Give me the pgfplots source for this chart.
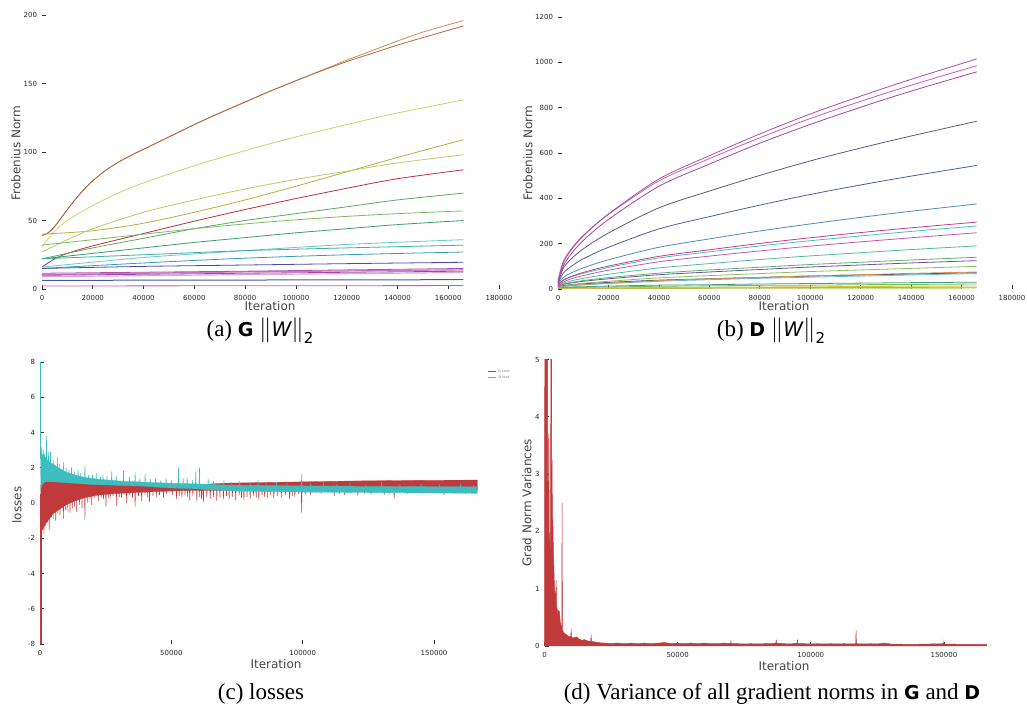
\documentclass[border=0pt]{standalone}
\usepackage{pgfplots}
\pgfplotsset{compat=1.18}
\usepackage{fontspec}
\setmainfont{Liberation Serif}
\newfontfamily\dejavu{DejaVu Sans}
\definecolor{gred}{HTML}{C0393B}
\definecolor{dteal}{HTML}{3DBDBD}
\definecolor{lab}{HTML}{444444}
% panel a colours
\definecolor{a1}{HTML}{D48A4C}\definecolor{a2}{HTML}{B06848}\definecolor{a3}{HTML}{C8D468}
\definecolor{a4}{HTML}{B4B040}\definecolor{a5}{HTML}{B8CC60}\definecolor{a6}{HTML}{B82F3E}
\definecolor{a7}{HTML}{5AAA5A}\definecolor{a8}{HTML}{7AB868}\definecolor{a9}{HTML}{3A9A6A}
\definecolor{a10}{HTML}{68C8C8}\definecolor{a11}{HTML}{38B0A0}\definecolor{a12}{HTML}{3A9AB0}
\definecolor{a13}{HTML}{4A4AA8}\definecolor{p1}{HTML}{B050B0}\definecolor{p2}{HTML}{C878C8}
\definecolor{p3}{HTML}{A04AA0}\definecolor{p4}{HTML}{D8A8D8}\definecolor{a14}{HTML}{4858A8}
\definecolor{a15}{HTML}{C858B8}
% panel b colours
\definecolor{b1}{HTML}{B04AA8}\definecolor{b2}{HTML}{C060B8}\definecolor{b3}{HTML}{A04898}
\definecolor{b4}{HTML}{5A5888}\definecolor{b5}{HTML}{4E5C9C}\definecolor{b6}{HTML}{4A8EB0}
\definecolor{b7}{HTML}{C03C8C}\definecolor{b8}{HTML}{48C0B8}\definecolor{b9}{HTML}{C058B0}
\definecolor{b10}{HTML}{50B8A0}\definecolor{b11}{HTML}{58B070}\definecolor{b12}{HTML}{7050A0}
\definecolor{b13}{HTML}{88C060}\definecolor{b14}{HTML}{D09050}\definecolor{b15}{HTML}{68B8D0}
\definecolor{b16}{HTML}{384A7C}\definecolor{b17}{HTML}{40A080}\definecolor{b18}{HTML}{70C050}
\definecolor{b19}{HTML}{D8C040}\definecolor{b20}{HTML}{E0A040}\definecolor{b21}{HTML}{A8D050}

\pgfplotsset{
  panel/.style={scale only axis, anchor=south west, axis lines*=left,
    axis line style={draw=none,-}, tick align=inside, major tick length=4pt,
    tick style={color=black!80, line width=0.7pt},
    ticklabel style={font=\dejavu\fontsize{7}{8}\selectfont, color=black!85},
    /pgf/number format/assume math mode=true, scaled ticks=false,
    /pgf/number format/fixed, /pgf/number format/1000 sep={},
    xticklabel style={yshift=-2.5pt},
    yticklabel style={xshift=-1.5pt},
    clip=false, every axis plot/.append style={line width=0.8pt}}
}
\newcommand{\lbl}{\dejavu\fontsize{12}{14}\selectfont\color{lab}}
\newcommand{\capfont}{\fontsize{23}{26}\selectfont}
\newcommand{\sfb}[1]{{\dejavu\bfseries\fontsize{19}{20}\selectfont #1}}
\newcommand{\nrm}{$\big\|${\dejavu\itshape\fontsize{20}{20}\selectfont W}$\big\|$\raisebox{-0.3em}{\dejavu\fontsize{15}{15}\selectfont 2}}

\begin{document}
\begin{tikzpicture}[x=1pt,y=1pt]
\path[use as bounding box] (0pt,0pt) rectangle (1027pt,707pt);

% ---------------- (a) ----------------
\begin{axis}[panel, at={(42pt,418pt)}, width=457pt, height=274pt,
  xmin=0, xmax=180000, ymin=0, ymax=200,
  xtick={0,20000,...,180000}, ytick={0,50,100,150,200}]
\addplot[a1, smooth] coordinates {(0,39) (2000,40.5) (4000,43.5) (6000,48) (8000,53) (10000,58) (12500,64) (15000,69.5) (17500,74.5) (20000,79) (25000,86.5) (30000,92.5) (35000,97.5) (40000,102) (50000,111) (60000,120) (70000,128.5) (80000,136.5) (90000,144.5) (100000,152) (110000,159.5) (120000,167) (130000,174) (140000,181) (150000,187.5) (166000,196)};
\addplot[a2, smooth] coordinates {(0,39) (2000,40.5) (4000,43.5) (6000,48) (8000,53) (10000,58) (12500,64) (15000,69.5) (17500,74.5) (20000,79) (25000,86.5) (30000,92.5) (35000,97.5) (40000,102) (50000,111) (60000,120) (70000,128.5) (80000,136.5) (90000,144.5) (100000,152) (110000,159.2) (120000,166) (130000,172) (140000,178) (150000,183.5) (166000,192)};
\addplot[a3, smooth] coordinates {(0,31) (5000,42) (10000,50) (20000,61) (30000,70) (40000,77.5) (60000,90) (80000,101) (100000,111) (120000,120) (140000,128.5) (166000,138)};
\addplot[a4, smooth] coordinates {(0,40) (20000,42.5) (40000,48) (60000,56) (80000,65) (100000,75) (120000,85.5) (140000,96) (166000,109)};
\addplot[a5, smooth] coordinates {(0,27) (10000,36) (20000,44) (40000,56) (60000,65) (80000,73) (100000,80) (120000,86) (140000,92) (166000,98)};
\addplot[a6, smooth] coordinates {(0,16) (5000,22) (10000,26) (20000,31.5) (40000,40.5) (60000,49.5) (80000,58) (100000,66) (120000,73.5) (140000,80.5) (166000,87)};
\addplot[a7, smooth] coordinates {(0,22) (20000,30) (40000,37) (60000,44) (80000,50) (100000,55) (120000,60) (140000,65) (166000,70)};
\addplot[a8, smooth] coordinates {(0,32) (20000,36) (40000,40) (60000,44) (80000,47.5) (100000,50.5) (120000,53) (140000,55) (166000,57)};
\addplot[a9, smooth] coordinates {(0,22) (20000,26) (40000,30) (60000,34) (80000,37.5) (100000,41) (120000,44) (140000,47) (166000,50)};
\addplot[a10, smooth] coordinates {(0,16) (40000,23) (80000,28) (120000,32.5) (166000,36)};
\addplot[a11, smooth] coordinates {(0,22) (40000,25) (80000,28) (120000,30) (166000,32)};
\addplot[a12, smooth] coordinates {(0,15) (40000,19) (80000,22.5) (120000,25) (166000,27)};
\addplot[a13, smooth] coordinates {(0,15) (40000,16.5) (80000,17.5) (120000,18.5) (166000,19.5)};
\addplot[p4, line width=1.2pt] coordinates {(0,9) (80000,10.5) (166000,12)};
\addplot[p2, line width=1.2pt] coordinates {(0,10.5) (80000,12.5) (166000,14)};
\addplot[p3] coordinates {(0,10) (80000,11.5) (166000,13)};
\addplot[p1] coordinates {(0,11.5) (80000,13) (166000,15)};
\addplot[a14, line width=1pt] coordinates {(0,6.3) (166000,6.8)};
\addplot[a15] coordinates {(0,2.2) (166000,2.5)};
\end{axis}

% ---------------- (b) ----------------
\begin{axis}[panel, at={(558pt,418pt)}, width=454pt, height=272pt,
  xmin=0, xmax=180000, ymin=0, ymax=1200,
  xtick={0,20000,...,180000}, ytick={0,200,...,1200}]
\addplot[b21] coordinates {(0,1) (40000,2.5) (100000,3.5) (166000,4)};
\addplot[b20] coordinates {(0,2) (2000,3) (5000,3) (10000,3) (20000,4) (40000,5) (60000,5) (80000,6) (100000,6) (120000,7) (140000,7) (166000,8)};
\addplot[b19, smooth] coordinates {(0,2) (2000,3) (5000,4) (10000,4) (20000,5) (40000,7) (60000,8) (80000,9) (100000,10) (120000,11) (140000,12) (166000,13)};
\addplot[b18, smooth] coordinates {(0,3) (2000,5) (5000,6) (10000,7) (20000,9) (40000,12) (60000,14) (80000,16) (100000,17) (120000,19) (140000,20) (166000,22)};
\addplot[b17, smooth] coordinates {(0,5) (2000,7) (5000,9) (10000,10) (20000,13) (40000,17) (60000,19) (80000,22) (100000,24) (120000,26) (140000,28) (166000,30)};
\addplot[b16, smooth] coordinates {(0,10) (2000,15) (5000,19) (10000,23) (20000,29) (40000,39) (60000,45) (80000,51) (100000,57) (120000,62) (140000,66) (166000,72)};
\addplot[b15, smooth] coordinates {(0,5) (2000,10) (5000,14) (10000,18) (20000,24) (40000,34) (60000,41) (80000,47) (100000,52) (120000,57) (140000,62) (166000,68)};
\addplot[b14, smooth] coordinates {(0,5) (2000,11) (5000,15) (10000,19) (20000,26) (40000,37) (60000,45) (80000,51) (100000,58) (120000,63) (140000,69) (166000,75)};
\addplot[b13, smooth] coordinates {(0,5) (2000,13) (5000,18) (10000,25) (20000,34) (40000,49) (60000,59) (80000,68) (100000,77) (120000,84) (140000,91) (166000,100)};
\addplot[b12, smooth] coordinates {(0,10) (2000,20) (5000,26) (10000,34) (20000,45) (40000,63) (60000,75) (80000,86) (100000,97) (120000,106) (140000,115) (166000,125)};
\addplot[b11, smooth] coordinates {(0,10) (2000,21) (5000,28) (10000,37) (20000,50) (40000,70) (60000,84) (80000,96) (100000,108) (120000,118) (140000,128) (166000,140)};
\addplot[b10, smooth] coordinates {(0,10) (2000,25) (5000,35) (10000,47) (20000,65) (40000,93) (60000,112) (80000,130) (100000,146) (120000,160) (140000,174) (166000,190)};
\addplot[b9, smooth] coordinates {(0,10) (2000,30) (5000,44) (10000,59) (20000,83) (40000,120) (60000,145) (80000,168) (100000,189) (120000,208) (140000,226) (166000,248)};
\addplot[b8, smooth] coordinates {(0,15) (2000,37) (5000,52) (10000,69) (20000,95) (40000,137) (60000,164) (80000,190) (100000,213) (120000,234) (140000,254) (166000,278)};
\addplot[b7, smooth] coordinates {(0,15) (2000,39) (5000,54) (10000,73) (20000,101) (40000,144) (60000,173) (80000,201) (100000,226) (120000,249) (140000,270) (166000,295)};
\addplot[b6, smooth] coordinates {(0,20) (2000,50) (5000,70) (10000,93) (20000,129) (40000,184) (60000,221) (80000,256) (100000,287) (120000,316) (140000,343) (166000,375)};
\addplot[b5, smooth] coordinates {(0,25) (2000,69) (5000,98) (10000,133) (20000,184) (40000,265) (60000,319) (80000,370) (100000,417) (120000,459) (140000,498) (166000,545)};
\addplot[b4, smooth] coordinates {(0,30) (2000,90) (5000,130) (10000,177) (20000,247) (40000,358) (60000,432) (80000,501) (100000,565) (120000,622) (140000,675) (166000,740)};
\addplot[b3, smooth] coordinates {(0,20) (2000,99) (5000,152) (10000,214) (20000,307) (40000,453) (60000,551) (80000,643) (100000,726) (120000,802) (140000,873) (166000,958)};
\addplot[b2, smooth] coordinates {(0,40) (2000,119) (5000,173) (10000,236) (20000,329) (40000,477) (60000,575) (80000,667) (100000,752) (120000,828) (140000,899) (166000,985)};
\addplot[b1, smooth] coordinates {(0,30) (2000,113) (5000,169) (10000,234) (20000,331) (40000,485) (60000,588) (80000,684) (100000,772) (120000,851) (140000,925) (166000,1015)};
\end{axis}

% ---------------- (c) ----------------
\begin{axis}[panel, at={(40pt,63pt)}, width=472.9pt, height=282pt,
  xmin=0, xmax=180000, ymin=-8, ymax=8,
  xtick={0,50000,100000,150000}, ytick={-8,-6,...,8},
  legend style={at={(1,0.985)}, anchor=north east, draw=none, fill=none,
    font=\dejavu\fontsize{3.5}{4}\selectfont\color{black!50}, row sep=-2pt, inner sep=1pt},
  legend image code/.code={\draw[#1] (0pt,0pt) -- (8pt,0pt);}]
\addlegendimage{gred, line width=0.8pt}\addlegendentry{G Loss}
\addlegendimage{dteal, line width=0.8pt}\addlegendentry{D loss}
% G loss band
\addplot[fill=gred, draw=gred, line width=0.3pt, forget plot] coordinates {
 (300,1.0) (1000,1.15) (2500,1.3) (5000,1.25) (10000,1.18) (20000,1.1) (30000,1.05) (40000,1.0) (50000,0.97) (60000,0.98) (65000,1.08) (70000,1.12) (80000,1.15) (100000,1.2) (120000,1.25) (140000,1.28) (166500,1.3)
 (166500,0.75) (140000,0.72) (120000,0.72) (100000,0.72) (80000,0.72) (60000,0.72) (50000,0.68) (40000,0.62) (30000,0.55) (22000,0.45) (17000,0.3) (13000,0.1) (10000,-0.1) (7000,-0.4) (5000,-0.6) (3000,-1.0) (2000,-1.2) (1000,-1.5) (500,-1.6) (300,1.0)};
\addplot[gred, line width=1.2pt, forget plot] coordinates {(400,-8) (400,0.5)};
% G loss spikes
\addplot[gred, line width=0.55pt, forget plot] coordinates {
 (550,0.9) (700,-1.4) (850,0.9) (1350,0.9) (1500,-1.75) (1650,0.9) (2050,0.9) (2200,-1.3) (2350,0.9) (2650,0.9) (2800,-1.1) (2950,0.9)
 (3350,0.9) (3500,-1.55) (3650,0.9) (4150,0.9) (4300,-0.8) (4450,0.9) (4850,0.9) (5000,-0.9) (5150,0.9) (5850,0.9) (6000,-1.0) (6150,0.9)
 (6650,0.9) (6800,-0.6) (6950,0.9) (7450,0.9) (7600,-0.7) (7750,0.9) (8750,0.9) (8900,-0.9) (9050,0.9) (9650,0.9) (9800,-0.4) (9950,0.9)
 (10450,0.9) (10600,-0.5) (10750,0.9) (11250,0.9) (11400,-0.55) (11550,0.9) (12150,0.9) (12300,-0.3) (12450,0.9) (13050,0.9) (13200,-0.2) (13350,0.9)
 (13850,0.9) (14000,-0.5) (14150,0.9) (14850,0.9) (15000,-0.1) (15150,0.9) (15850,0.9) (16000,-0.3) (16150,0.9) (16950,0.9) (17100,-0.95) (17250,0.9)
 (18050,0.9) (18200,0.0) (18350,0.9) (18850,0.9) (19000,0.2) (19150,0.9) (19550,0.9) (19700,-0.1) (19850,0.9) (20650,0.9) (20800,0.3) (20950,0.9)
 (22050,0.9) (22200,0.1) (22350,0.9) (23150,0.9) (23300,0.35) (23450,0.9) (24050,0.9) (24200,0.2) (24350,0.9) (24950,0.9) (25100,-0.2) (25250,0.9)
 (25850,0.9) (26000,0.3) (26150,0.9) (26550,0.9) (26700,0.25) (26850,0.9) (27650,0.9) (27800,0.4) (27950,0.9) (29050,0.9) (29200,-0.15) (29350,0.9)
 (30050,0.9) (30200,0.35) (30350,0.9) (30850,0.9) (31000,0.3) (31150,0.9) (31850,0.9) (32000,0.45) (32150,0.9) (32850,0.9) (33000,0.0) (33150,0.9)
 (34050,0.9) (34200,0.4) (34350,0.9) (35050,0.9) (35200,0.3) (35350,0.9) (36050,0.9) (36200,-0.2) (36350,0.9) (37350,0.9) (37500,0.4) (37650,0.9)
 (38550,0.9) (38700,0.1) (38850,0.9) (39850,0.9) (40000,0.45) (40150,0.9) (40850,0.9) (41000,0.3) (41150,0.9) (41550,0.9) (41700,0.05) (41850,0.9)
 (42850,0.9) (43000,0.4) (43150,0.9) (44250,0.9) (44400,0.35) (44550,0.9) (45350,0.9) (45500,0.45) (45650,0.9) (46850,0.9) (47000,0.3) (47150,0.9)
 (48050,0.9) (48200,0.5) (48350,0.9) (50350,0.9) (50500,0.45) (50650,0.9) (51850,0.9) (52000,0.2) (52150,0.9) (52850,0.9) (53000,0.4) (53150,0.9)
 (53850,0.9) (54000,0.3) (54150,0.9) (55050,0.9) (55200,0.45) (55350,0.9) (56050,0.9) (56200,0.35) (56350,0.9) (56850,0.9) (57000,0.15) (57150,0.9)
 (58050,0.9) (58200,0.4) (58350,0.9) (59550,0.9) (59700,0.1) (59850,0.9) (60650,0.9) (60800,0.35) (60950,0.9) (61350,0.9) (61500,0.2) (61650,0.9)
 (62050,0.9) (62200,0.05) (62350,0.9) (63350,0.9) (63500,0.3) (63650,0.9) (64650,0.9) (64800,0.25) (64950,0.9) (65850,0.9) (66000,0.35) (66150,0.9)
 (67150,0.9) (67300,0.1) (67450,0.9) (68350,0.9) (68500,0.3) (68650,0.9) (69650,0.9) (69800,0.2) (69950,0.9) (70850,0.9) (71000,0.4) (71150,0.9)
 (71850,0.9) (72000,0.2) (72150,0.9) (73050,0.9) (73200,0.35) (73350,0.9) (74350,0.9) (74500,0.15) (74650,0.9) (75650,0.9) (75800,0.45) (75950,0.9)
 (76550,0.9) (76700,0.3) (76850,0.9) (77450,0.9) (77600,0.15) (77750,0.9) (78650,0.9) (78800,0.35) (78950,0.9) (79850,0.9) (80000,0.2) (80150,0.9)
 (81050,0.9) (81200,0.4) (81350,0.9) (82150,0.9) (82300,0.3) (82450,0.9) (83150,0.9) (83300,0.15) (83450,0.9) (84350,0.9) (84500,0.45) (84650,0.9)
 (85350,0.9) (85500,0.35) (85650,0.9) (86350,0.9) (86500,0.3) (86650,0.9) (87650,0.9) (87800,0.45) (87950,0.9) (88850,0.9) (89000,0.25) (89150,0.9)
 (90350,0.9) (90500,0.4) (90650,0.9) (91850,0.9) (92000,0.3) (92150,0.9) (93350,0.9) (93500,0.45) (93650,0.9) (94850,0.9) (95000,0.2) (95150,0.9)
 (95850,0.9) (96000,0.4) (96150,0.9) (96850,0.9) (97000,0.35) (97150,0.9) (98350,0.9) (98500,0.5) (98650,0.9) (99450,0.9) (99600,-0.55) (99750,0.9)
 (100850,0.9) (101000,0.5) (101150,0.9) (102850,0.9) (103000,0.45) (103150,0.9) (104850,0.9) (105000,0.55) (105150,0.9) (106850,0.9) (107000,0.5) (107150,0.9)
 (109350,0.9) (109500,0.6) (109650,0.9) (111850,0.9) (112000,0.4) (112150,0.9) (113850,0.9) (114000,0.55) (114150,0.9) (115850,0.9) (116000,0.45) (116150,0.9)
 (118350,0.9) (118500,0.6) (118650,0.9) (120850,0.9) (121000,0.4) (121150,0.9) (123350,0.9) (123500,0.55) (123650,0.9) (125850,0.9) (126000,0.5) (126150,0.9)
 (128350,0.9) (128500,0.6) (128650,0.9) (130850,0.9) (131000,0.45) (131150,0.9) (132850,0.9) (133000,0.55) (133150,0.9) (134650,0.9) (134800,0.25) (134950,0.9)
 (136850,0.9) (137000,0.6) (137150,0.9) (139850,0.9) (140000,0.5) (140150,0.9) (142350,0.9) (142500,0.6) (142650,0.9) (144850,0.9) (145000,0.55) (145150,0.9)
 (147350,0.9) (147500,0.6) (147650,0.9) (149850,0.9) (150000,0.55) (150150,0.9) (151850,0.9) (152000,0.6) (152150,0.9) (153650,0.9) (153800,0.45) (153950,0.9)
 (155850,0.9) (156000,0.6) (156150,0.9) (157850,0.9) (158000,0.55) (158150,0.9) (159850,0.9) (160000,0.6) (160150,0.9) (161850,0.9) (162000,0.5) (162150,0.9)
 (163850,0.9) (164000,0.6) (164150,0.9)};
% D loss band
\addplot[fill=dteal, draw=dteal, line width=0.3pt, forget plot] coordinates {
 (300,3.0) (1000,2.7) (2000,2.6) (3000,2.4) (5000,2.2) (7000,2.0) (10000,1.75) (13000,1.6) (17000,1.45) (22000,1.35) (30000,1.25) (40000,1.18) (50000,1.12) (60000,1.08) (70000,1.02) (80000,1.0) (100000,0.97) (120000,0.95) (140000,0.93) (166500,0.92)
 (166500,0.55) (140000,0.58) (120000,0.6) (100000,0.62) (80000,0.66) (70000,0.7) (60000,0.8) (50000,0.85) (40000,0.95) (30000,1.0) (20000,1.05) (10000,1.15) (5000,1.2) (2000,1.2) (1000,1.1) (300,0.8) (300,3.0)};
\addplot[dteal, line width=1.2pt, forget plot] coordinates {(250,8) (250,2.5)};
% D loss spikes
\addplot[dteal, line width=0.55pt, forget plot] coordinates {
 (350,1.5) (500,3.2) (650,1.5) (1150,1.5) (1300,3.0) (1450,1.5) (1650,1.5) (1800,2.8) (1950,1.5) (2350,1.5) (2500,3.8) (2650,1.5)
 (3050,1.5) (3200,2.9) (3350,1.5) (3850,1.5) (4000,2.9) (4150,1.5) (5050,1.5) (5200,2.4) (5350,1.5) (6450,1.5) (6600,2.6) (6750,1.5)
 (7350,1.5) (7500,2.2) (7650,1.5) (8750,1.5) (8900,2.3) (9050,1.5) (9850,1.4) (10000,2.0) (10150,1.4) (10850,1.4) (11000,1.9) (11150,1.4)
 (11850,1.3) (12000,2.0) (12150,1.3) (13050,1.3) (13200,1.8) (13350,1.3) (14350,1.3) (14500,1.9) (14650,1.3) (15350,1.3) (15500,1.7) (15650,1.3)
 (16950,1.3) (17100,2.1) (17250,1.3) (18350,1.2) (18500,1.6) (18650,1.2) (19850,1.2) (20000,1.6) (20150,1.2) (21450,1.15) (21600,1.7) (21750,1.15)
 (22850,1.15) (23000,1.5) (23150,1.15) (23850,1.15) (24000,1.6) (24150,1.15) (25350,1.15) (25500,1.55) (25650,1.15) (27150,1.1) (27300,1.8) (27450,1.1)
 (28850,1.1) (29000,1.55) (29150,1.1) (31650,1.1) (31800,1.85) (31950,1.1) (33850,1.1) (34000,1.5) (34150,1.1) (36050,1.05) (36200,1.75) (36350,1.05)
 (37850,1.05) (38000,1.4) (38150,1.05) (39850,1.05) (40000,1.65) (40150,1.05) (41850,1.0) (42000,1.35) (42150,1.0) (43850,1.0) (44000,1.4) (44150,1.0)
 (45850,1.0) (46000,1.3) (46150,1.0) (47850,1.0) (48000,1.4) (48150,1.0) (49850,0.95) (50000,1.3) (50150,0.95) (52550,0.95) (52700,2.0) (52850,0.95)
 (54350,0.95) (54500,1.4) (54650,0.95) (55850,0.95) (56000,1.45) (56150,0.95) (57850,0.9) (58000,1.3) (58150,0.9) (59150,0.9) (59300,1.8) (59450,0.9)
 (60550,0.9) (60700,2.0) (60850,0.9) (63850,0.9) (64000,1.4) (64150,0.9) (65850,0.85) (66000,1.25) (66150,0.85) (69850,0.85) (70000,1.3) (70150,0.85)
 (72850,0.85) (73000,1.2) (73150,0.85) (75850,0.85) (76000,1.25) (76150,0.85) (79850,0.8) (80000,1.2) (80150,0.8) (82850,0.8) (83000,1.3) (83150,0.8)
 (85850,0.8) (86000,1.15) (86150,0.8) (89850,0.8) (90000,1.2) (90150,0.8) (93850,0.8) (94000,1.15) (94150,0.8) (99450,0.8) (99600,1.64) (99750,0.8)
 (102850,0.75) (103000,1.1) (103150,0.75) (107850,0.75) (108000,1.2) (108150,0.75) (112850,0.75) (113000,1.1) (113150,0.75) (117850,0.75) (118000,1.15) (118150,0.75)
 (123850,0.75) (124000,1.05) (124150,0.75) (129850,0.75) (130000,1.2) (130150,0.75) (136850,0.75) (137000,1.05) (137150,0.75) (144850,0.75) (145000,1.1) (145150,0.75)
 (151850,0.75) (152000,1.05) (152150,0.75) (159850,0.75) (160000,1.1) (160150,0.75) (164850,0.75) (165000,1.0) (165150,0.75)};
\end{axis}

% ---------------- (d) ----------------
\begin{axis}[panel, at={(544.5pt,61pt)}, width=452.7pt, height=286.5pt,
  xmin=0, xmax=170000, ymin=0, ymax=5,
  xtick={0,50000,100000,150000}, ytick={0,1,2,3,4,5}]
\addplot[fill=gred, draw=gred, line width=0.5pt] coordinates {
 (0,0) (100,5) (1150,5) (1250,1.85) (1450,2.1) (1600,3.7) (1750,2.0) (1950,1.9) (2100,1.55) (2250,2.0) (2400,5) (2650,5) (2700,2.9) (2850,3.25) (2950,2.2) (3150,2.2) (3350,1.6) (3550,1.3) (3750,1.0) (4000,0.9) (4250,0.75) (4375,1.15) (4500,0.7) (4750,0.65) (5000,0.55) (5300,0.62) (5600,0.6) (5900,0.42) (6200,0.35) (6500,0.3) (6600,2.5) (6700,0.28) (7000,0.25) (7500,0.22) (8100,0.2) (9000,0.17) (9900,0.16) (10000,0.3) (10100,0.15) (11000,0.14) (12000,0.16) (13000,0.12) (14000,0.1) (15000,0.11) (16000,0.09) (17400,0.08) (17500,0.2) (17600,0.08) (19000,0.07) (20000,0.06) (22500,0.05) (25000,0.045) (27500,0.05) (30000,0.04) (32500,0.05) (35000,0.04) (37500,0.05) (40000,0.04) (42500,0.05) (45000,0.06) (47500,0.04) (50000,0.05) (52500,0.04) (55000,0.05) (57500,0.04) (60000,0.05) (62500,0.04) (65000,0.04) (67500,0.05) (69900,0.04) (70000,0.08) (70100,0.04) (72500,0.04) (75000,0.035) (77500,0.04) (80000,0.035) (82500,0.04) (85000,0.04) (86900,0.05) (87000,0.11) (87100,0.05) (90000,0.04) (92500,0.035) (94900,0.05) (95000,0.11) (95100,0.04) (97500,0.04) (100000,0.035) (102500,0.04) (105000,0.035) (107500,0.04) (110000,0.035) (112500,0.04) (115000,0.035) (116900,0.04) (117000,0.27) (117100,0.04) (120000,0.035) (122500,0.04) (125000,0.035) (127500,0.05) (130000,0.035) (135000,0.03) (140000,0.03) (145000,0.035) (149900,0.04) (150000,0.08) (150100,0.035) (155000,0.03) (160000,0.03) (166000,0.03) (166000,0)};
\end{axis}

% ---------------- labels ----------------
\node[font=\lbl, inner sep=0pt] at (270pt,400.5pt) {Iteration};
\node[font=\lbl, rotate=90, inner sep=0pt] at (16pt,554pt) {Frobenius Norm};
\node[font=\lbl, inner sep=0pt] at (784pt,400.5pt) {Iteration};
\node[font=\lbl, rotate=90, inner sep=0pt] at (528pt,554pt) {Frobenius Norm};
\node[font=\lbl, inner sep=0pt] at (276pt,43pt) {Iteration};
\node[font=\lbl, rotate=90, inner sep=0pt] at (17pt,202pt) {losses};
\node[font=\lbl, inner sep=0pt] at (784pt,41pt) {Iteration};
\node[font=\lbl, rotate=90, inner sep=0pt] at (527pt,204pt) {Grad Norm Variances};

\node[anchor=base, font=\capfont, inner sep=0pt] at (260pt,370pt) {(a) \sfb{G} \nrm};
\node[anchor=base, font=\capfont, inner sep=0pt] at (771pt,370pt) {(b) \sfb{D} \nrm};
\node[anchor=base, font=\capfont, inner sep=0pt] at (261pt,8pt) {(c) losses};
\node[anchor=base, font=\capfont, inner sep=0pt] at (772pt,8pt) {(d) Variance of all gradient norms in \sfb{G} and \sfb{D}};
\end{tikzpicture}
\end{document}
